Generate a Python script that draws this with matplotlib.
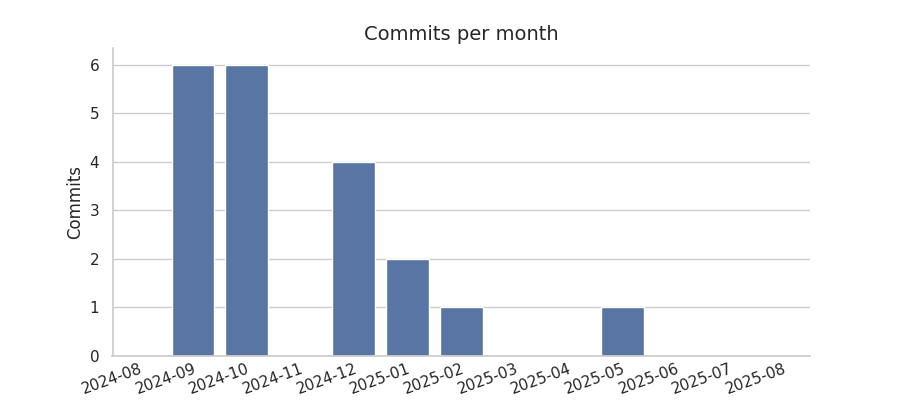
import matplotlib
matplotlib.use("Agg")
import matplotlib.pyplot as plt
import seaborn as sns

months = ["2024-08","2024-09","2024-10","2024-11","2024-12","2025-01","2025-02",
          "2025-03","2025-04","2025-05","2025-06","2025-07","2025-08"]
commits = [0,6,6,0,4,2,1,0,0,1,0,0,0]

sns.set_theme(style="whitegrid")
fig = plt.figure(figsize=(9,4), dpi=100)
ax = fig.add_axes([0.125, 0.11, 0.775, 0.77])
sns.barplot(x=months, y=commits, color="#4c72b0", ax=ax, saturation=0.75)
ax.set_title("Commits per month", fontsize=14)
ax.set_ylabel("Commits")
ax.set_xlabel("")
ax.set_ylim(0, 6.35)
plt.setp(ax.get_xticklabels(), rotation=20, ha="right", rotation_mode="anchor")
ax.tick_params(axis="x", bottom=True, length=0)
sns.despine(ax=ax)
ax.xaxis.grid(False)
fig.savefig("out.png")
